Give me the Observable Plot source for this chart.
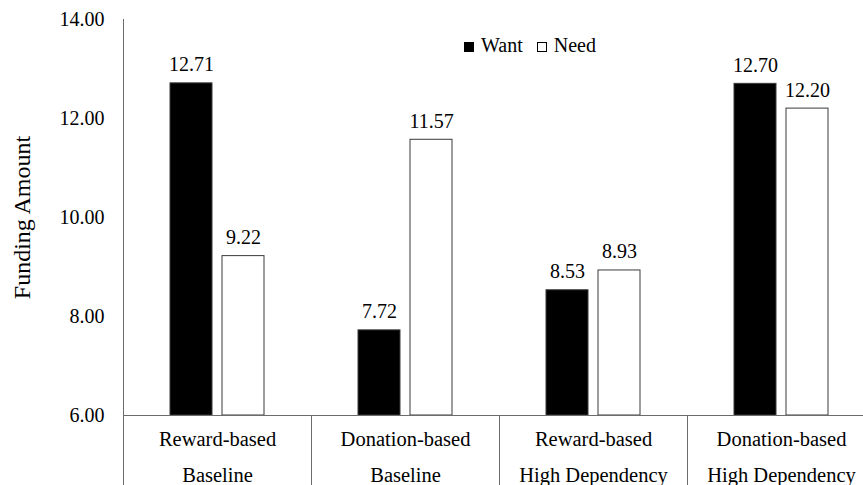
<!DOCTYPE html>
<html>
<head>
<meta charset="utf-8">
<script src="https://cdn.jsdelivr.net/npm/d3@7"></script>
<script src="https://cdn.jsdelivr.net/npm/@observablehq/plot@0.6"></script>
<style>
  html, body { margin: 0; padding: 0; background: #fff; overflow: hidden; font-family: 'Liberation Serif', serif; }
  #chart { position: relative; width: 863px; height: 485px; }
  #legend { position: absolute; left: 464px; top: 35px; font-size: 20px; line-height: 20px; color: #000; white-space: nowrap; }
  #legend .item { display: inline-block; margin-right: 14px; }
  #legend .sw { display: inline-block; width: 10px; height: 10px; box-sizing: border-box; border: 1px solid #000; margin-right: 7px; vertical-align: baseline; }
</style>
</head>
<body>
<div id="chart"><div id="legend" style="font-family:'Liberation Serif'"></div></div>
<script>
// ---- data ----
const platforms = ["Reward-based", "Donation-based", "Reward-based", "Donation-based"];
const conditions = ["Baseline", "Baseline", "High Dependency", "High Dependency"];
const series = ["Want", "Need"];
const want = [12.71, 7.72, 8.53, 12.70];
const need = [9.22, 11.57, 8.93, 12.20];
const yTicks = [6, 8, 10, 12, 14];
const seriesColors = ["#000000", "#ffffff"];

const categories = platforms.map((p, i) => p + "\n" + conditions[i]);
const data = categories.flatMap((c, i) => [
  {cat: c, series: series[0], value: want[i]},
  {cat: c, series: series[1], value: need[i]}
]);

const lineColor = "#6b6b6b";
const font = "Liberation Serif";

const plot = Plot.plot({
  width: 863,
  height: 485,
  marginLeft: 123,
  marginRight: -12,
  marginTop: 19,
  marginBottom: 70,
  style: {fontFamily: font, fontSize: "20px", color: "#000", background: "#fff", overflow: "visible"},
  fx: {domain: categories, padding: 0, label: null, axis: null},
  x: {domain: series, paddingInner: 0.19, paddingOuter: 0.87, axis: null},
  y: {domain: [yTicks[0], yTicks[yTicks.length - 1]], label: null},
  color: {domain: series, range: seriesColors},
  marks: [
    Plot.barY(data, {
      fx: "cat", x: "series", y1: yTicks[0], y2: "value",
      fill: "series", stroke: "#3a3a3a", strokeWidth: 1
    }),
    Plot.text(data, {
      fx: "cat", x: "series", y: "value",
      text: d => d.value.toFixed(2),
      lineAnchor: "bottom", dy: -12, fontSize: 20, fill: "#000"
    }),
    Plot.axisY({
      ticks: yTicks, tickFormat: d => d.toFixed(2), tickSize: 0, tickPadding: 19,
      fontSize: 20, label: "Funding Amount", labelAnchor: "center", labelArrow: "none", labelOffset: 111
    }),
    Plot.axisFx({
      anchor: "bottom", tickSize: 0, tickPadding: 5, lineHeight: 1.75, fontSize: 20.5, label: null
    }),
    Plot.ruleY([yTicks[0]], {stroke: lineColor, strokeWidth: 1})
  ]
});

document.getElementById("chart").appendChild(plot);

const svg = d3.select(plot);
svg.style("font-family", "'Liberation Serif'");
svg.selectAll("g, text").attr("font-family", "Liberation Serif").style("font-family", "'Liberation Serif'");
// larger y-axis title as in the reference
svg.selectAll('g[aria-label="y-axis label"] text').attr("font-size", 24).style("font-size", "24px");

// category separators and left axis line, placed with the plot's own scales
const fx = plot.scale("fx");
const ys = plot.scale("y");
const bottom = 485;
const g = svg.append("g").attr("stroke", lineColor).attr("stroke-width", 1);
categories.forEach((c, i) => {
  const x = Math.round(fx.apply(c)) + 0.5;
  g.append("line")
    .attr("x1", x).attr("x2", x)
    .attr("y1", i === 0 ? ys.apply(yTicks[yTicks.length - 1]) : ys.apply(yTicks[0]))
    .attr("y2", bottom);
});

// legend
const legend = d3.select("#legend");
series.forEach((s, i) => {
  const item = legend.append("span").attr("class", "item");
  item.append("span").attr("class", "sw").style("background", seriesColors[i]);
  item.append("span").text(s);
});
</script>
</body>
</html>
